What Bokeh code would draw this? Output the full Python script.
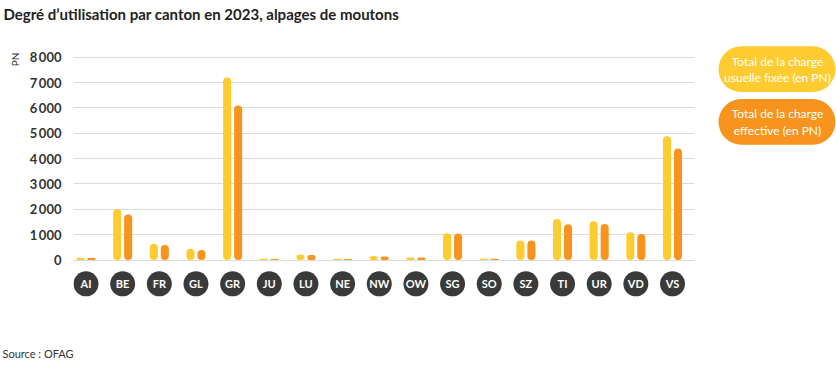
from bokeh.plotting import figure
from bokeh.layouts import row
from bokeh.models import Range1d, FixedTicker, Title, ColumnDataSource
from bokeh.core.properties import value
from bokeh.embed import file_html
from bokeh.resources import INLINE

# ---- data ----
cantons = ["AI", "BE", "FR", "GL", "GR", "JU", "LU", "NE", "NW", "OW",
           "SG", "SO", "SZ", "TI", "UR", "VD", "VS"]
charge_fixee = [90, 2000, 640, 440, 7200, 50, 220, 50, 150, 100,
                1060, 50, 770, 1620, 1530, 1100, 4880]
charge_effective = [80, 1800, 590, 400, 6100, 40, 200, 40, 140, 100,
                    1050, 50, 770, 1410, 1420, 1030, 4400]
y_ticks = [0, 1000, 2000, 3000, 4000, 5000, 6000, 7000, 8000]
y_tick_labels = {t: ("{:,}".format(t).replace(",", "\u2009")) for t in y_ticks}
legend_lines = [["Total de la charge", "usuelle fixée (en PN)"],
                ["Total de la charge", "effective (en PN)"]]
title_text = "Degré d\u2019utilisation par canton en 2023, alpages de moutons"
source_text = "Source : OFAG"
unit_text = "PN"

YELLOW = "#FECC30"
ORANGE = "#F7941D"
DARK = "#3a3a3a"
FONT = "Lato"

idx = list(range(len(cantons)))
off = 0.15
bw = 0.22

H = 369
TOP, BOTTOM = 22, 29          # frame spans page y 22 .. 340
Y_END, Y_START = 9294, -3176  # keeps 0 at y=259 and 8000 at y=55

p = figure(width=710, height=H, output_backend="svg", toolbar_location=None,
           x_range=Range1d(-0.341, 16.6), y_range=Range1d(Y_START, Y_END),
           min_border_left=73, min_border_right=16, min_border_top=TOP,
           min_border_bottom=BOTTOM)
p.outline_line_color = None
p.background_fill_color = "white"
p.border_fill_color = "white"
p.xaxis.visible = False
p.xgrid.visible = False

yax = p.yaxis[0]
yax.ticker = FixedTicker(ticks=y_ticks)
yax.major_label_overrides = y_tick_labels
yax.axis_line_color = None
yax.major_tick_line_color = None
yax.minor_tick_line_color = None
yax.major_tick_out = 0
yax.major_tick_in = 0
yax.minor_tick_out = 0
yax.minor_tick_in = 0
yax.major_label_standoff = 12
yax.major_label_text_font = FONT
yax.major_label_text_font_style = "bold"
yax.major_label_text_font_size = "13px"
yax.major_label_text_color = "#333333"

p.ygrid.ticker = FixedTicker(ticks=y_ticks)
p.ygrid.grid_line_color = "#dcdcdc"
p.ygrid.grid_line_width = 1

src = ColumnDataSource(dict(
    x=idx, cat=cantons,
    x1=[i - off for i in idx], x2=[i + off for i in idx],
    v1=charge_fixee, v2=charge_effective,
    cy=[-941] * len(idx),
))

p.vbar(x="x1", top="v1", bottom=0, width=bw, source=src, fill_color=YELLOW,
       line_color=None, border_radius=4)
p.vbar(x="x2", top="v2", bottom=0, width=bw, source=src, fill_color=ORANGE,
       line_color=None, border_radius=4)

p.scatter(x="x", y="cy", size=25, source=src, marker="circle",
          fill_color=DARK, line_color=None)
p.text(x="x", y="cy", text="cat", source=src, text_color="white",
       text_font=value(FONT), text_font_style="bold", text_font_size="11px",
       text_align="center", text_baseline="middle")

p.add_layout(Title(text=title_text, align="left", offset=-70,
                   text_font=FONT, text_font_style="bold",
                   text_font_size="15px", text_color="#222222",
                   standoff=4), "above")
p.add_layout(Title(text=source_text, align="left", offset=-71,
                   text_font=FONT, text_font_style="normal",
                   text_font_size="11px", text_color="#333333",
                   standoff=8), "below")
p.add_layout(Title(text=unit_text, align="right", offset=28,
                   text_font=FONT, text_font_style="normal",
                   text_font_size="10px", text_color="#333333",
                   standoff=12), "left")

# ---- legend panel (data units = page pixels) ----
lg = figure(width=126, height=H, output_backend="svg", toolbar_location=None,
            x_range=Range1d(710, 836), y_range=Range1d(H - BOTTOM, TOP),
            min_border_left=0, min_border_right=0,
            min_border_top=TOP, min_border_bottom=BOTTOM)
lg.axis.visible = False
lg.grid.visible = False
lg.outline_line_color = None
lg.background_fill_color = "white"
lg.border_fill_color = "white"

colors = [YELLOW, ORANGE]
tops = [44, 97]
for i in range(2):
    lg.quad(left=718, right=835, top=tops[i], bottom=tops[i] + 46,
            fill_color=colors[i], line_color=None, border_radius=23)
    for j, line in enumerate(legend_lines[i]):
        lg.text(x=[777], y=[tops[i] + 15 + 16.5 * j], text=[line],
                text_color="white", text_font=value(FONT),
                text_font_size="12px", text_align="center",
                text_baseline="middle")

layout = row(p, lg)
open("out.html", "w").write(file_html(layout, INLINE))
